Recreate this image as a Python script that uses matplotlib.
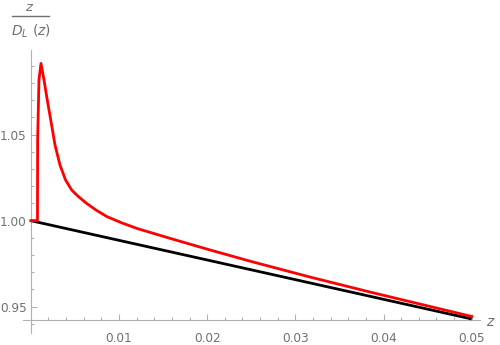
import matplotlib
matplotlib.use("Agg")
import matplotlib.pyplot as plt
from matplotlib.lines import Line2D
from matplotlib.ticker import MultipleLocator, FormatStrFormatter

# red curve: z / D_L(z) for the modified model
z_red = [0.0, 0.00076, 0.00078, 0.00093, 0.00116, 0.00150, 0.00187, 0.00226,
         0.00275, 0.00331, 0.00394, 0.00464, 0.00540, 0.00634, 0.00745,
         0.00861, 0.01030, 0.01204, 0.01579, 0.02032, 0.02486, 0.03167,
         0.03847, 0.04414, 0.05]
y_red = [1.0000, 1.0000, 1.0470, 1.0818, 1.0914, 1.0818, 1.0702, 1.0587,
         1.0440, 1.0324, 1.0237, 1.0178, 1.0140, 1.0100, 1.0060,
         1.0024, 0.99875, 0.99547, 0.98971, 0.98297, 0.97645, 0.96721,
         0.95849, 0.95151, 0.94430]

# black curve: reference model
z_black = [0.0, 0.0125, 0.025, 0.0375, 0.05]
y_black = [1.0000, 0.98571, 0.97143, 0.95714, 0.94285]

grey = "#b0b0b0"
txt = "#707070"

fig = plt.figure(figsize=(5.0, 3.45), dpi=100)
ax = fig.add_axes([0.046, 0.0348, 0.914, 0.8203])

ax.plot(z_black, y_black, color="black", lw=2.0, solid_capstyle="butt", zorder=3)
ax.plot(z_red, y_red, color="red", lw=2.0, solid_joinstyle="round", zorder=4)

ax.set_xlim(-0.00088, 0.05094)
ax.set_ylim(0.9347, 1.0992)

for s in ["top", "right"]:
    ax.spines[s].set_visible(False)
ax.spines["left"].set_position(("data", 0.0))
ax.spines["bottom"].set_position(("data", 0.94227))
for s in ["left", "bottom"]:
    ax.spines[s].set_color(grey)
    ax.spines[s].set_linewidth(0.8)

ax.xaxis.set_minor_locator(MultipleLocator(0.002))
ax.yaxis.set_minor_locator(MultipleLocator(0.01))
ax.xaxis.set_major_formatter(FormatStrFormatter("%.2f"))
ax.yaxis.set_major_formatter(FormatStrFormatter("%.2f"))
ax.set_xticks([0.01, 0.02, 0.03, 0.04, 0.05])
ax.set_yticks([0.95, 1.00, 1.05])

ax.tick_params(which="both", direction="in", color=grey, width=0.8,
               labelcolor=txt, labelsize=8.7)
ax.tick_params(which="major", length=4.5)
ax.tick_params(which="minor", length=2.5)
ax.tick_params(axis="x", pad=8.5)
ax.tick_params(axis="y", pad=3)

# axis labels in Mathematica style
fig.text(0.060, 0.978, "$z$", color=txt, fontsize=9.5, ha="center", va="center")
fig.add_artist(Line2D([0.024, 0.098], [0.955, 0.955], color=txt, lw=1.0,
                      transform=fig.transFigure))
fig.text(0.061, 0.908, r"$D_L\ (z)$", color=txt, fontsize=10,
         ha="center", va="center")
fig.text(0.981, 0.067, "$z$", color=txt, fontsize=10, ha="center", va="center")

fig.savefig("out.png", dpi=100)
